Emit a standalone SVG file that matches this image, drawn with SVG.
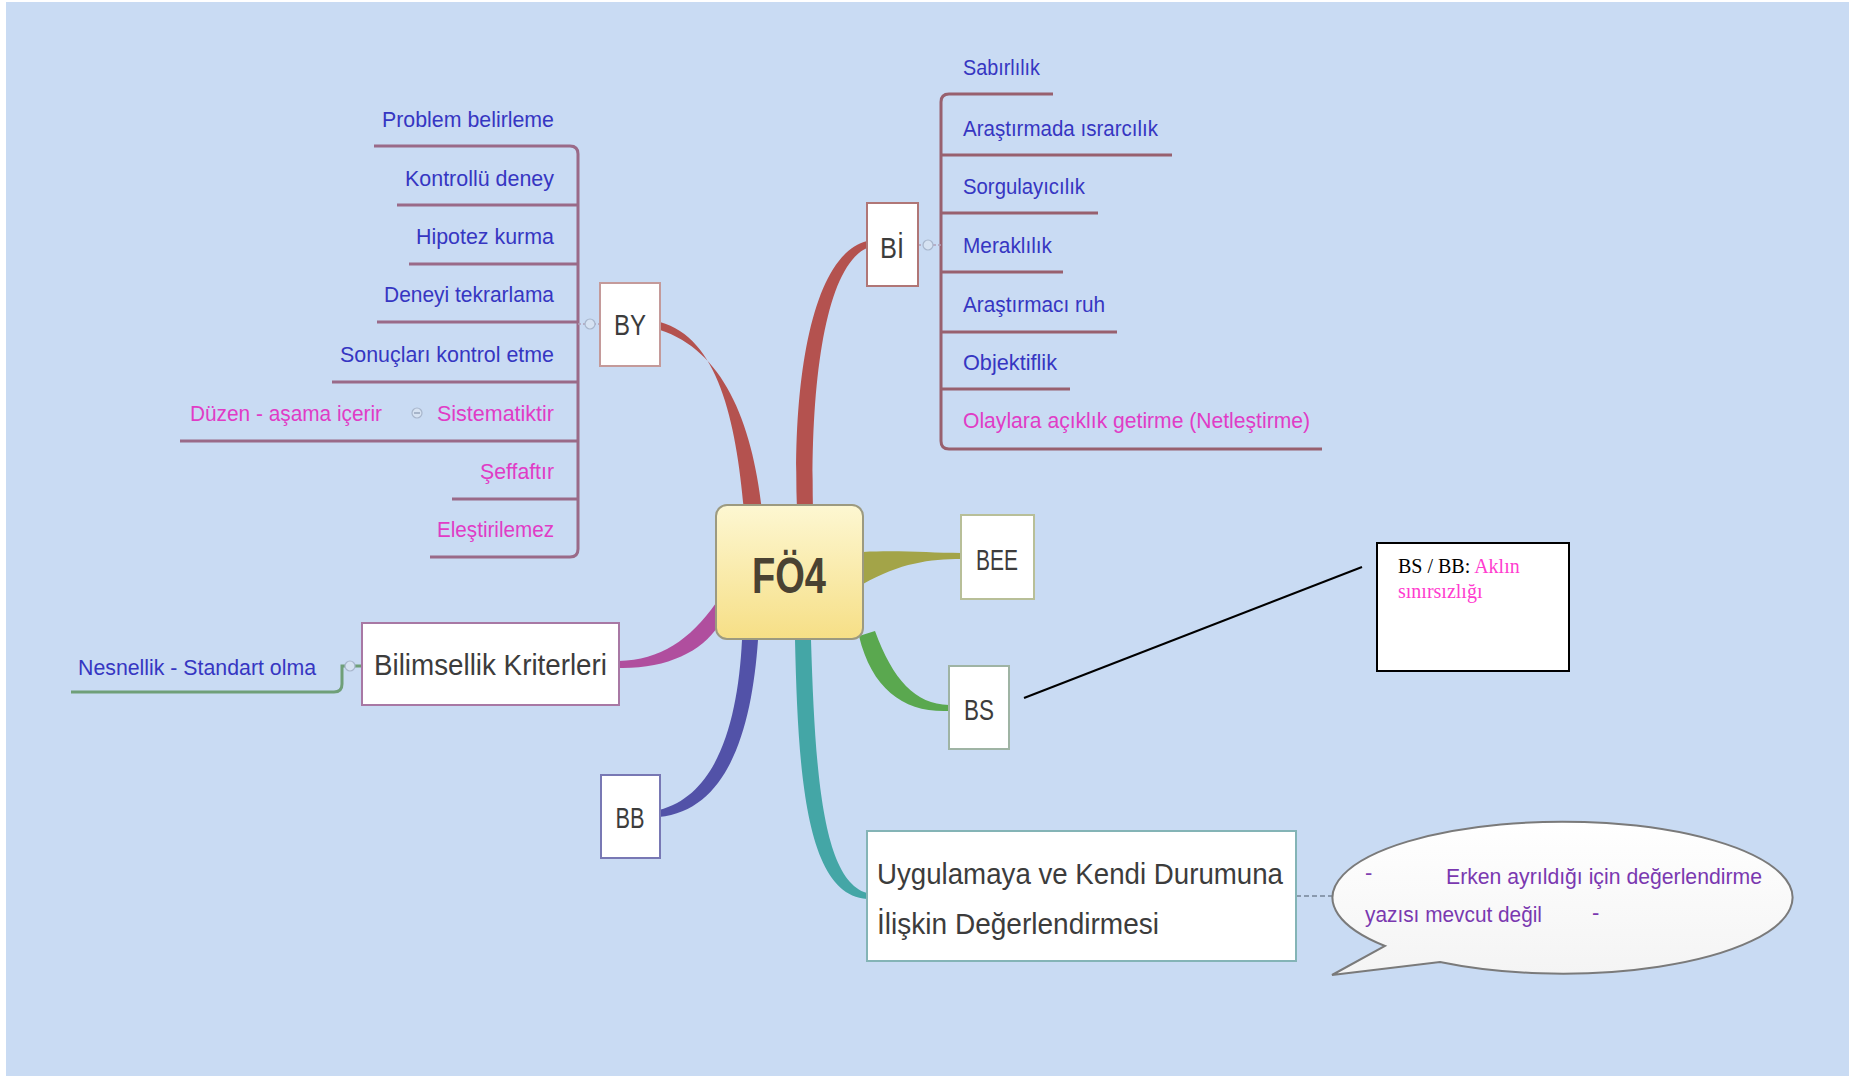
<svg xmlns="http://www.w3.org/2000/svg" width="1849" height="1076" viewBox="0 0 1849 1076">
<defs>
<linearGradient id="gCenter" x1="0" y1="0" x2="0" y2="1">
<stop offset="0" stop-color="#fdf7d2"/>
<stop offset="1" stop-color="#f6df86"/>
</linearGradient>
<linearGradient id="gBubble" x1="0" y1="0" x2="0" y2="1">
<stop offset="0" stop-color="#ffffff"/>
<stop offset="1" stop-color="#f4f4f4"/>
</linearGradient>
<style>
.t{font-family:"Liberation Sans",Arial,sans-serif;font-size:22px}
.blue{fill:#3636c2}
.pink{fill:#e03cc6}
.lab{font-family:"Liberation Sans",Arial,sans-serif;font-size:30px;fill:#3c3c3c}
.box{fill:#ffffff;stroke-width:2}
.ulL{stroke:#9a6a88;stroke-width:3;fill:none}
.ulR{stroke:#98606e;stroke-width:3;fill:none}
.col{fill:#d6e2f2;stroke:#a8b6cc;stroke-width:1.2}
.colm{stroke:#8898b0;stroke-width:1.2}
</style>
</defs>
<rect x="0" y="0" width="1849" height="1076" fill="#c9dbf3"/>
<rect x="0" y="0" width="6" height="1076" fill="#ffffff"/>
<rect x="0" y="0" width="1849" height="2" fill="#ffffff"/>

<g id="connectors">
<!-- main branches -->
<path d="M744,510 C736,420 718,338 660,322 L660,330 C722,350 752,420 762,510 Z" fill="#b4524f"/>
<path d="M797,510 C792,380 812,255 867,241 L867,248 C826,266 810,380 813,510 Z" fill="#b4524f"/>
<path d="M863,552 C900,550 930,553 961,553 L961,559 C930,559 900,563 863,584 Z" fill="#a3a448"/>
<path d="M859,636 C872,690 905,713 949,711 L949,705 C915,704 893,680 875,631 Z" fill="#5aa84f"/>
<path d="M742,640 C738,720 718,795 659,810 L659,817 C730,810 752,725 758,640 Z" fill="#5252a8"/>
<path d="M795,640 C798,770 805,895 867,899 L867,893 C822,880 815,770 811,640 Z" fill="#44a6a6"/>
<path d="M716,603 C690,640 660,660 619,661 L619,668 C665,669 702,652 718,626 Z" fill="#b04e9e"/>
<!-- BY bracket -->
<path d="M570,146 Q578,146 578,154 V549 Q578,557 570,557" class="ulL"/>
<line x1="578" y1="324" x2="600" y2="324" stroke="#b0a0b8" stroke-width="1.5" stroke-dasharray="3,2"/>
<!-- BI bracket -->
<path d="M949,94 Q941,94 941,102 V441 Q941,449 949,449" class="ulR"/>
<line x1="918" y1="245" x2="941" y2="245" stroke="#b0a0b8" stroke-width="1.5" stroke-dasharray="3,2"/>
<!-- Bilimsellik to Nesnellik -->
<path d="M362,666 H342 V684 Q342,692 334,692 H71" stroke="#6f9f78" stroke-width="3" fill="none"/>
<!-- Sistematiktir to Duzen -->
<line x1="180" y1="441" x2="437" y2="441" class="ulL"/>
<!-- Uygulamaya to bubble -->
<line x1="1296" y1="896" x2="1334" y2="896" stroke="#8a9aae" stroke-width="2" stroke-dasharray="5,3"/>
<!-- callout line -->
<line x1="1024" y1="698" x2="1362" y2="567" stroke="#000000" stroke-width="2"/>
</g>

<g id="center">
<rect x="716" y="505" width="147" height="134" rx="11" fill="url(#gCenter)" stroke="#9c9a80" stroke-width="2"/>
<text x="789" y="593" text-anchor="middle" font-family="Liberation Sans,Arial,sans-serif" font-weight="bold" font-size="50" fill="#4a4232" textLength="74" lengthAdjust="spacingAndGlyphs">FÖ4</text>
</g>

<g id="node-BY">
<rect x="600" y="283" width="60" height="83" class="box" stroke="#c49a9a"/>
<text x="630" y="335" text-anchor="middle" class="lab" textLength="32" lengthAdjust="spacingAndGlyphs">BY</text>
<circle cx="590" cy="324" r="5" class="col"/>
</g>
<g id="node-BI">
<rect x="867" y="203" width="51" height="83" class="box" stroke="#b07676"/>
<text x="892" y="258" text-anchor="middle" class="lab" textLength="24" lengthAdjust="spacingAndGlyphs">Bİ</text>
<circle cx="928" cy="245" r="5" class="col"/>
</g>
<g id="node-BEE">
<rect x="961" y="515" width="73" height="84" class="box" stroke="#b8bf98"/>
<text x="997" y="570" text-anchor="middle" class="lab" textLength="42" lengthAdjust="spacingAndGlyphs">BEE</text>
</g>
<g id="node-BS">
<rect x="949" y="666" width="60" height="83" class="box" stroke="#9fb4a4"/>
<text x="979" y="720" text-anchor="middle" class="lab" textLength="30" lengthAdjust="spacingAndGlyphs">BS</text>
</g>
<g id="node-BB">
<rect x="601" y="775" width="59" height="83" class="box" stroke="#7878b4"/>
<text x="630" y="828" text-anchor="middle" class="lab" textLength="29" lengthAdjust="spacingAndGlyphs">BB</text>
</g>
<g id="node-bilimsellik">
<rect x="362" y="623" width="257" height="82" class="box" stroke="#a878a4"/>
<text x="374" y="675" class="lab" textLength="233" lengthAdjust="spacingAndGlyphs">Bilimsellik Kriterleri</text>
<circle cx="350" cy="666" r="5" class="col"/>
</g>
<g id="node-uygulamaya">
<rect x="867" y="831" width="429" height="130" class="box" stroke="#84b4b6"/>
<text x="877" y="884" class="lab" textLength="406" lengthAdjust="spacingAndGlyphs">Uygulamaya ve Kendi Durumuna</text>
<text x="877" y="934" class="lab" textLength="282" lengthAdjust="spacingAndGlyphs">İlişkin Değerlendirmesi</text>
</g>

<!-- BY children -->
<g id="by-1"><line x1="374" y1="146" x2="570" y2="146" class="ulL"/><text x="554" y="127" text-anchor="end" class="t blue" textLength="172" lengthAdjust="spacingAndGlyphs">Problem belirleme</text></g>
<g id="by-2"><line x1="397" y1="205" x2="578" y2="205" class="ulL"/><text x="554" y="186" text-anchor="end" class="t blue" textLength="149" lengthAdjust="spacingAndGlyphs">Kontrollü deney</text></g>
<g id="by-3"><line x1="409" y1="264" x2="578" y2="264" class="ulL"/><text x="554" y="244" text-anchor="end" class="t blue" textLength="138" lengthAdjust="spacingAndGlyphs">Hipotez kurma</text></g>
<g id="by-4"><line x1="377" y1="322" x2="578" y2="322" class="ulL"/><text x="554" y="302" text-anchor="end" class="t blue" textLength="170" lengthAdjust="spacingAndGlyphs">Deneyi tekrarlama</text></g>
<g id="by-5"><line x1="332" y1="382" x2="578" y2="382" class="ulL"/><text x="554" y="362" text-anchor="end" class="t blue" textLength="214" lengthAdjust="spacingAndGlyphs">Sonuçları kontrol etme</text></g>
<g id="by-6"><line x1="437" y1="441" x2="578" y2="441" class="ulL"/><text x="554" y="421" text-anchor="end" class="t pink" textLength="117" lengthAdjust="spacingAndGlyphs">Sistematiktir</text>
<circle cx="417" cy="413" r="5" class="col"/><line x1="414" y1="413" x2="420" y2="413" class="colm"/></g>
<g id="by-6-1"><text x="190" y="421" class="t pink" textLength="192" lengthAdjust="spacingAndGlyphs">Düzen - aşama içerir</text></g>
<g id="by-7"><line x1="452" y1="499" x2="578" y2="499" class="ulL"/><text x="554" y="479" text-anchor="end" class="t pink" textLength="74" lengthAdjust="spacingAndGlyphs">Şeffaftır</text></g>
<g id="by-8"><line x1="430" y1="557" x2="570" y2="557" class="ulL"/><text x="554" y="537" text-anchor="end" class="t pink" textLength="117" lengthAdjust="spacingAndGlyphs">Eleştirilemez</text></g>

<!-- Nesnellik -->
<g id="bk-1"><text x="78" y="675" class="t blue" textLength="238" lengthAdjust="spacingAndGlyphs">Nesnellik - Standart olma</text></g>

<!-- BI children -->
<g id="bi-1"><line x1="949" y1="94" x2="1053" y2="94" class="ulR"/><text x="963" y="75" class="t blue" textLength="77" lengthAdjust="spacingAndGlyphs">Sabırlılık</text></g>
<g id="bi-2"><line x1="941" y1="155" x2="1172" y2="155" class="ulR"/><text x="963" y="136" class="t blue" textLength="195" lengthAdjust="spacingAndGlyphs">Araştırmada ısrarcılık</text></g>
<g id="bi-3"><line x1="941" y1="213" x2="1098" y2="213" class="ulR"/><text x="963" y="194" class="t blue" textLength="122" lengthAdjust="spacingAndGlyphs">Sorgulayıcılık</text></g>
<g id="bi-4"><line x1="941" y1="272" x2="1063" y2="272" class="ulR"/><text x="963" y="253" class="t blue" textLength="89" lengthAdjust="spacingAndGlyphs">Meraklılık</text></g>
<g id="bi-5"><line x1="941" y1="332" x2="1117" y2="332" class="ulR"/><text x="963" y="312" class="t blue" textLength="142" lengthAdjust="spacingAndGlyphs">Araştırmacı ruh</text></g>
<g id="bi-6"><line x1="941" y1="389" x2="1070" y2="389" class="ulR"/><text x="963" y="370" class="t blue" textLength="94" lengthAdjust="spacingAndGlyphs">Objektiflik</text></g>
<g id="bi-7"><line x1="949" y1="449" x2="1322" y2="449" class="ulR"/><text x="963" y="428" class="t pink" textLength="347" lengthAdjust="spacingAndGlyphs">Olaylara açıklık getirme (Netleştirme)</text></g>

<!-- callout -->
<g id="callout">
<rect x="1377" y="543" width="192" height="128" fill="#ffffff" stroke="#000000" stroke-width="2"/>
<text x="1398" y="573" font-family="Liberation Serif,'Times New Roman',serif" font-size="20" fill="#000000">BS / BB: <tspan fill="#ff3ccf">Aklın</tspan></text>
<text x="1398" y="598" font-family="Liberation Serif,'Times New Roman',serif" font-size="20" fill="#ff3ccf">sınırsızlığı</text>
</g>

<!-- speech bubble -->
<g id="bubble">
<path d="M1385,946 A230,76 0 1 1 1440,962 L1332,975 Z" fill="url(#gBubble)" stroke="#7a7a7a" stroke-width="2"/>
<text x="1365" y="880" class="t" fill="#8040b0">-</text>
<text x="1446" y="884" class="t" fill="#7a38b0" textLength="316" lengthAdjust="spacingAndGlyphs">Erken ayrıldığı için değerlendirme</text>
<text x="1365" y="922" class="t" fill="#7a38b0" textLength="177" lengthAdjust="spacingAndGlyphs">yazısı mevcut değil</text>
<text x="1592" y="920" class="t" fill="#7a38b0">-</text>
</g>
</svg>
